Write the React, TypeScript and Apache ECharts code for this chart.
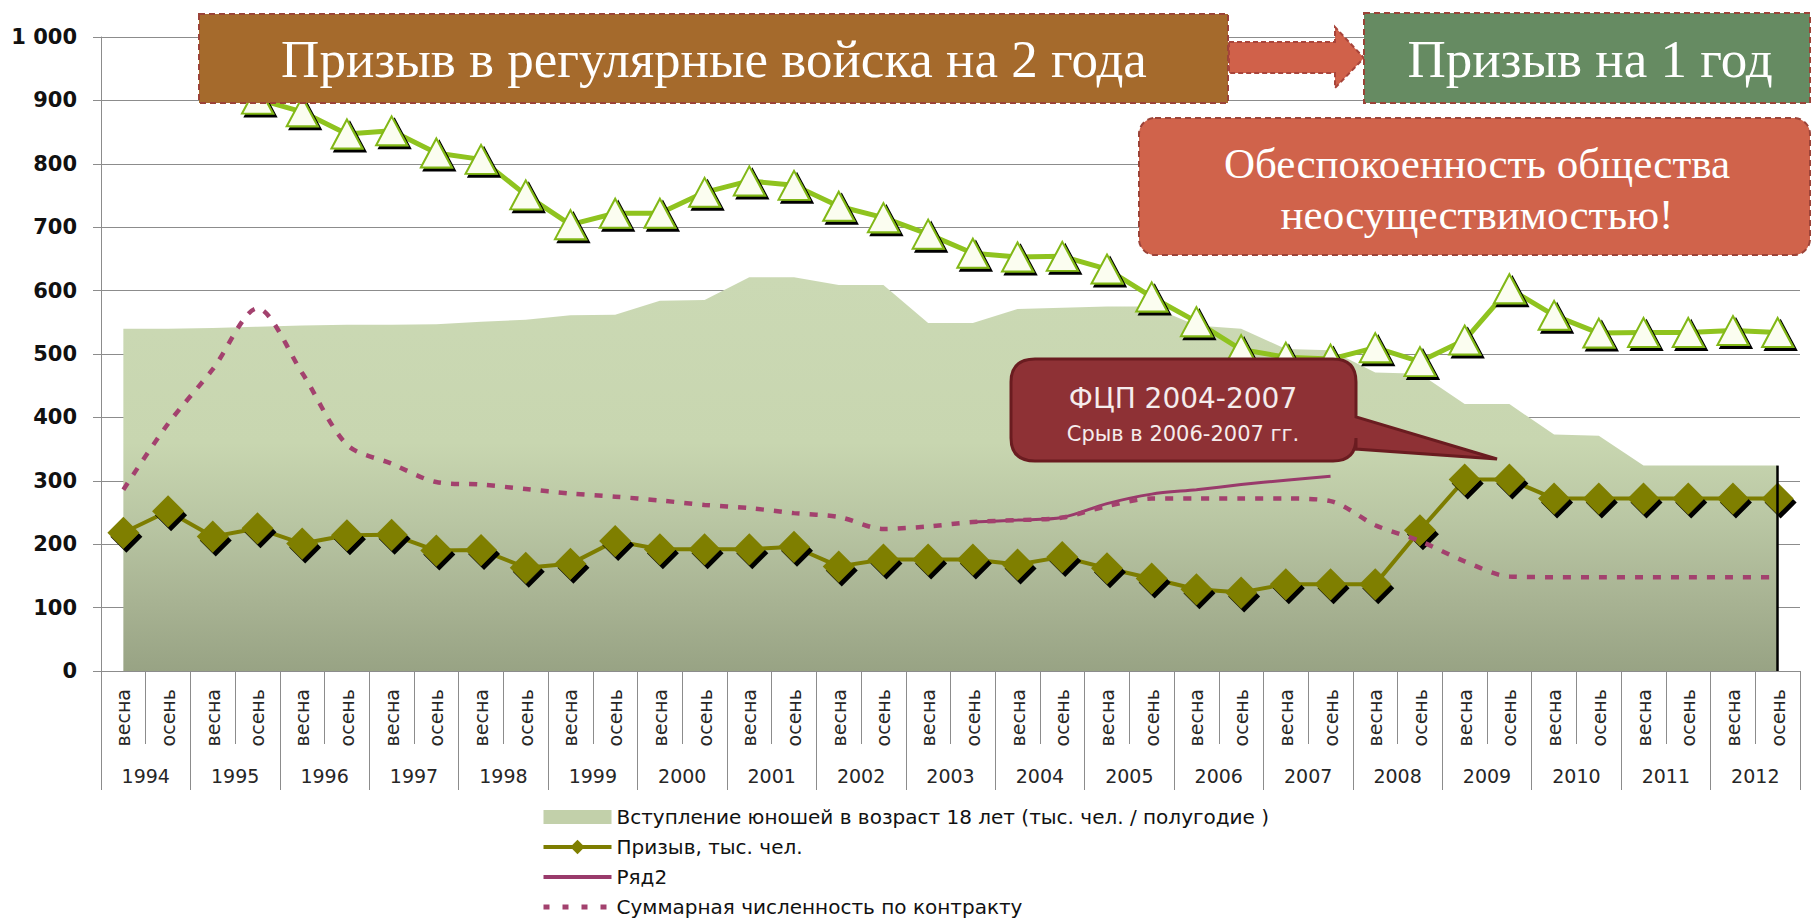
import React, { useEffect, useRef } from 'react';
import * as echarts from 'echarts';

// ---- data ----
const seasons = ['весна', 'осень'];
const years = ['1994', '1995', '1996', '1997', '1998', '1999', '2000', '2001', '2002', '2003',
  '2004', '2005', '2006', '2007', '2008', '2009', '2010', '2011', '2012'];
const categories = years.flatMap((y) => seasons.map((s) => `${y} ${s}`));

const youthName = 'Вступление юношей в возраст 18 лет (тыс. чел. / полугодие )';
const youthEntering = [540, 540, 541, 543, 545, 546, 546, 547, 551, 554, 561, 562, 584, 585, 621, 621,
  609, 609, 549, 549, 571, 573, 575, 575, 545, 540, 508, 506, 471, 469, 421, 421, 373, 371, 324, 324, 324, 324];

const demandName = 'Ряд1';
const demand = [null, null, null, 902, 882, 847, 852, 817, 807, 751, 704, 722, 722, 755, 773, 766,
  733, 715, 689, 659, 653, 654, 634, 590, 551, 507, 495, 492, 510, 488, 522, 603, 561, 533, 534, 534, 537, 534];

const draftName = 'Призыв, тыс. чел.';
const draft = [218, 252, 212, 225, 201, 214, 215, 190, 191, 163, 169, 205, 192, 192, 192, 196,
  165, 176, 176, 176, 168, 180, 162, 146, 129, 124, 137, 137, 137, 222, 302, 302, 272, 272, 272, 272, 272, 272];

const row2Name = 'Ряд2';
const row2 = [null, null, null, null, null, null, null, null, null, null, null, null, null, null, null, null,
  null, null, null, 235, 238, 242, 264, 279, 286, 294, 301, 307, null, null, null, null, null, null, null, null, null, null];

const contractName = 'Суммарная численность по контракту';
const contract = [286, 390, 476, 572, 470, 357, 327, 298, 294, 287, 280, 275, 269, 262, 257, 249,
  243, 224, 228, 235, 238, 242, 260, 272, 272, 272, 272, 268, 230, 205, 173, 149, 148, 148, 148, 148, 148, 148];

const calloutPath =
  'M1035 359 L1333 359 Q1356 359 1356 382 L1356 417 L1497 459 L1356 449 L1356 438 Q1356 461 1333 461 ' +
  'L1035 461 Q1011 461 1011 438 L1011 382 Q1011 359 1035 359 Z';
echarts.graphic.registerShape('callout', echarts.graphic.extendPath(calloutPath, {}));

// legend swatch for the area: a 68x14 block inside an 18px-high box
const areaIcon = 'path://M0 0 L0.05 0 L0 0.05 Z M0 2 L68 2 L68 16 L0 16 Z M0 18 L0.05 18 L0 17.95 Z';

const serif = '"Liberation Serif", "Times New Roman", serif';
const sans = '"DejaVu Sans", sans-serif';

export default function App() {
  const ref = useRef<HTMLDivElement>(null);
  useEffect(() => {
    if (!ref.current) return;
    const chart = echarts.init(ref.current, undefined, { renderer: 'svg' });
    const gray = '#8c8c8c';
    chart.setOption({
      animation: false,
      backgroundColor: '#ffffff',
      grid: { left: 101, right: 12, top: 37, bottom: 251, containLabel: false, outerBoundsMode: 'none' },
      legend: {
        orient: 'vertical',
        left: 541,
        top: 807,
        padding: 0,
        height: 112,
        itemWidth: 68,
        itemHeight: 18,
        itemGap: 10,
        selectedMode: false,
        textStyle: { fontFamily: sans, fontSize: 20, color: '#111' },
        data: [
          { name: youthName, icon: areaIcon, itemStyle: { color: '#c2d0aa' } },
          { name: draftName, lineStyle: { width: 4 } },
          { name: row2Name, itemStyle: { opacity: 0 }, lineStyle: { width: 4 } },
          { name: contractName, itemStyle: { opacity: 0 }, lineStyle: { width: 5, type: [6, 13] } },
        ],
      },
      xAxis: [
        {
          type: 'category',
          data: categories,
          boundaryGap: true,
          axisLine: { show: true, lineStyle: { color: gray } },
          axisTick: { show: true, interval: 0, length: 73, lineStyle: { color: gray } },
          axisLabel: {
            interval: 0,
            rotate: 90,
            margin: 18,
            fontFamily: sans,
            fontSize: 19,
            color: '#262626',
            formatter: (v: string) => v.split(' ')[1],
          },
          splitLine: { show: false },
        },
        {
          type: 'category',
          data: years,
          position: 'bottom',
          offset: 73,
          boundaryGap: true,
          axisLine: { show: false },
          axisTick: { show: true, interval: 0, length: 46, lineStyle: { color: gray } },
          axisLabel: { interval: 0, margin: 22, fontFamily: sans, fontSize: 19, color: '#262626' },
          splitLine: { show: false },
        },
      ],
      yAxis: {
        type: 'value',
        min: 0,
        max: 1000,
        interval: 100,
        axisLine: { show: true, lineStyle: { color: gray } },
        axisTick: { show: true, length: 8, lineStyle: { color: gray } },
        splitLine: { show: true, lineStyle: { color: gray, width: 1 } },
        axisLabel: {
          margin: 24,
          fontFamily: sans,
          fontWeight: 'bold',
          fontSize: 21,
          color: '#111',
          formatter: (v: number) => String(v).replace(/\B(?=(\d{3})+(?!\d))/g, ' '),
        },
      },
      series: [
        {
          name: youthName,
          type: 'line',
          data: youthEntering,
          symbol: 'none',
          silent: true,
          z: 1,
          lineStyle: { width: 0 },
          itemStyle: { color: '#c2d0aa' },
          areaStyle: {
            opacity: 1,
            color: new echarts.graphic.LinearGradient(0, 0, 0, 1, [
              { offset: 0, color: '#cbd9b4' },
              { offset: 0.42, color: '#c8d6b0' },
              { offset: 0.62, color: '#b9c6a3' },
              { offset: 0.82, color: '#a8b393' },
              { offset: 1, color: '#98a384' },
            ]),
          },
          markLine: {
            silent: true,
            symbol: 'none',
            label: { show: false },
            lineStyle: { color: '#000', width: 2.5, type: 'solid' },
            data: [[{ coord: [categories[37], 0] }, { coord: [categories[37], youthEntering[37]] }]],
          },
        },
        {
          name: demandName,
          type: 'line',
          data: demand,
          z: 3,
          symbol: 'triangle',
          symbolSize: [31, 29],
          lineStyle: { color: '#8fc31f', width: 5 },
          itemStyle: {
            color: '#fbfdf0',
            borderColor: '#82b818',
            borderWidth: 2,
            shadowColor: '#000',
            shadowOffsetX: 3,
            shadowOffsetY: 3,
            shadowBlur: 0,
          },
        },
        {
          name: draftName,
          type: 'line',
          data: draft,
          z: 4,
          symbol: 'diamond',
          symbolSize: [32, 32],
          lineStyle: { color: '#7d7d00', width: 4 },
          itemStyle: {
            color: '#7f7f00',
            shadowColor: '#000',
            shadowOffsetX: 3,
            shadowOffsetY: 4,
            shadowBlur: 0,
          },
        },
        {
          name: row2Name,
          type: 'line',
          data: row2,
          z: 5,
          symbol: 'none',
          smooth: 0.3,
          lineStyle: { color: '#993a6b', width: 3 },
          itemStyle: { color: '#993a6b' },
        },
        {
          name: contractName,
          type: 'line',
          data: contract,
          z: 6,
          symbol: 'none',
          smooth: 0.3,
          lineStyle: { color: '#a3416e', width: 4.5, type: [8, 10] },
          itemStyle: { color: '#a3416e' },
        },
      ],
      graphic: [
        {
          type: 'rect', z: 100,
          shape: { x: 199, y: 14, width: 1029, height: 89 },
          style: { fill: '#a56a2c', stroke: '#9c4338', lineWidth: 2, lineDash: [6, 4] },
        },
        {
          type: 'text', z: 101, x: 714, y: 59,
          style: { text: 'Призыв в регулярные войска на 2 года', fill: '#ffffff', fontFamily: serif, fontSize: 53, align: 'center', verticalAlign: 'middle' },
        },
        {
          type: 'polygon', z: 100,
          shape: { points: [[1229, 42], [1335, 42], [1335, 27], [1364, 58], [1335, 88], [1335, 73], [1229, 73]] },
          style: { fill: '#d0614a', stroke: '#a8443a', lineWidth: 2, lineDash: [5, 3] },
        },
        {
          type: 'rect', z: 100,
          shape: { x: 1364, y: 13, width: 446, height: 90 },
          style: { fill: '#668b62', stroke: '#9c4338', lineWidth: 2, lineDash: [6, 4] },
        },
        {
          type: 'text', z: 101, x: 1590, y: 59,
          style: { text: 'Призыв на 1 год', fill: '#ffffff', fontFamily: serif, fontSize: 53, align: 'center', verticalAlign: 'middle' },
        },
        {
          type: 'rect', z: 100,
          shape: { x: 1139, y: 118, width: 671, height: 137, r: 16 },
          style: { fill: '#d0634b', stroke: '#9c4338', lineWidth: 2, lineDash: [6, 4] },
        },
        {
          type: 'text', z: 101, x: 1477, y: 163,
          style: { text: 'Обеспокоенность общества', fill: '#ffffff', fontFamily: serif, fontSize: 43, align: 'center', verticalAlign: 'middle' },
        },
        {
          type: 'text', z: 101, x: 1477, y: 214,
          style: { text: 'неосуществимостью!', fill: '#ffffff', fontFamily: serif, fontSize: 43, align: 'center', verticalAlign: 'middle' },
        },
        {
          type: 'callout', z: 100, x: 0, y: 0,
          style: { fill: '#8e3135', stroke: '#6a1c20', lineWidth: 3 },
        },
        {
          type: 'text', z: 101, x: 1183, y: 398,
          style: { text: 'ФЦП 2004-2007', fill: '#f5ecec', fontFamily: sans, fontSize: 28, align: 'center', verticalAlign: 'middle' },
        },
        {
          type: 'text', z: 101, x: 1183, y: 434,
          style: { text: 'Срыв в 2006-2007 гг.', fill: '#f5ecec', fontFamily: sans, fontSize: 21, align: 'center', verticalAlign: 'middle' },
        },
      ],
    });
    return () => chart.dispose();
  }, []);
  return (
    <div
      ref={ref}
      style={{ position: 'absolute', left: 0, top: 0, width: 1812, height: 922, background: '#fff' }}
    />
  );
}
